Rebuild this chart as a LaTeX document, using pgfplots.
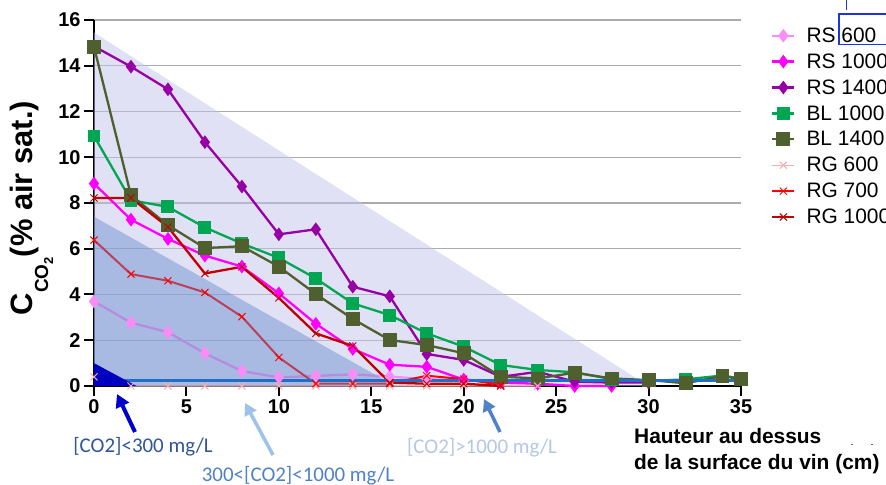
\documentclass[border=0pt]{standalone}
\usepackage{pgfplots}
\pgfplotsset{compat=1.18}
\usepackage{fontspec}
\setmainfont{Liberation Sans}
\newfontfamily\carlito{Carlito}
\usetikzlibrary{arrows.meta}

% series colours
\definecolor{rsA}{RGB}{250,140,245}
\definecolor{rsB}{RGB}{255,0,255}
\definecolor{rsC}{RGB}{150,0,165}
\definecolor{blA}{RGB}{0,166,81}
\definecolor{blB}{RGB}{79,95,45}
\definecolor{rgA}{RGB}{242,175,178}
\definecolor{rgB}{RGB}{255,0,0}
\definecolor{rgC}{RGB}{192,0,0}
% zone colours
\definecolor{zoneHigh}{RGB}{195,195,238}
\definecolor{zoneMid}{RGB}{100,140,200}
\definecolor{zoneLow}{RGB}{0,0,192}
\definecolor{floorline}{RGB}{31,111,198}
\definecolor{txtLow}{RGB}{47,85,151}
\definecolor{txtMid}{RGB}{79,129,200}
\definecolor{txtHigh}{RGB}{180,199,231}
\definecolor{arrLow}{RGB}{0,0,204}
\definecolor{arrMid}{RGB}{157,195,235}
\definecolor{arrHigh}{RGB}{80,130,200}
\definecolor{boxblue}{RGB}{30,50,230}

\begin{document}
\begin{tikzpicture}
\begin{axis}[
  at={(94bp,99bp)}, anchor=south west,
  scale only axis, width=647bp, height=366bp,
  xmin=0, xmax=35, ymin=0, ymax=16,
  axis x line=bottom, axis y line=left,
  axis line style={-, line width=2.2bp, black},
  xtick={0,5,...,35}, ytick={0,2,...,16},
  tick align=outside, major tick length=10bp,
  tick style={line width=2bp, black},
  ymajorgrids, grid style={line width=1.3bp, color=black!33},
  tick label style={font=\bfseries\fontsize{20}{20}\selectfont},
  /pgf/number format/assume math mode=true,
  clip=false,
  legend cell align=left,
  legend image code/.code={\draw[mark repeat=2, mark phase=2, #1] plot coordinates {(0bp,0bp)(11bp,0bp)(22bp,0bp)};},
  legend style={at={(axis description cs:1.0464,0.985)}, anchor=north west,
    draw=none, fill=none, inner sep=0pt, row sep=5.8bp, column sep=9bp,
    font=\fontsize{21}{24}\selectfont, nodes={inner sep=2bp}},
]
% zone above 1000 mg/L
\addplot[draw=none, fill=zoneHigh, fill opacity=0.5, forget plot]
  coordinates {(0,0) (0,15.45) (30,0)} -- cycle;

\addplot[color=rsA, line width=2.3bp, mark=diamond*, mark size=5bp]
  coordinates {(0,3.7)(2,2.77)(4,2.35)(6,1.43)(8,0.65)(10,0.38)(12,0.44)(14,0.51)(16,0.41)(18,0.3)(20,0.25)};
\addlegendentry{RS 600}
\addplot[color=rsB, line width=2.3bp, mark=diamond*, mark size=5bp]
  coordinates {(0,8.85)(2,7.27)(4,6.43)(6,5.7)(8,5.22)(10,4.05)(12,2.72)(14,1.62)(16,0.93)(18,0.84)(20,0.28)(22,0.15)(24,0.1)(26,0)(28,0)};
\addlegendentry{RS 1000}
\addplot[color=rsC, line width=2.3bp, mark=diamond*, mark size=5bp]
  coordinates {(0,14.85)(2,13.96)(4,12.97)(6,10.66)(8,8.72)(10,6.63)(12,6.85)(14,4.34)(16,3.92)(18,1.4)(20,1.14)(22,0.4)(24,0.62)(26,0.19)(28,0.15)(30,0.15)};
\addlegendentry{RS 1400}
\addplot[color=blA, line width=2.3bp, mark=square*, mark size=5.3bp]
  coordinates {(0,10.93)(2,8.12)(4,7.83)(6,6.93)(8,6.23)(10,5.6)(12,4.7)(14,3.61)(16,3.1)(18,2.3)(20,1.72)(22,0.92)(24,0.7)(26,0.6)(28,0.3)(30,0.22)(32,0.29)(34,0.46)(35,0.32)};
\addlegendentry{BL 1000}
\addplot[color=blB, line width=2.3bp, mark=square*, mark size=5.8bp]
  coordinates {(0,14.83)(2,8.34)(4,7.03)(6,6.03)(8,6.11)(10,5.22)(12,4.02)(14,2.93)(16,2.01)(18,1.79)(20,1.43)(22,0.41)(24,0.33)(26,0.58)(28,0.33)(30,0.26)(32,0.12)(34,0.43)(35,0.3)};
\addlegendentry{BL 1400}
\addplot[color=rgA, line width=1.5bp, mark=x, mark size=5bp, mark options={line width=1bp}]
  coordinates {(0,0.4)(2,0)(4,0)(6,0)(8,0)(10,0)(12,0)(14,0)(16,0)(18,0)(20,0)(22,0)(24,0)};
\addlegendentry{RG 600}
\addplot[color=rgB, line width=2bp, mark=x, mark size=5bp, mark options={line width=1bp}]
  coordinates {(0,6.38)(2,4.89)(4,4.6)(6,4.09)(8,3.03)(10,1.25)(12,0.1)(14,0.1)(16,0.1)(18,0.45)(20,0.3)(22,0.05)};
\addlegendentry{RG 700}
\addplot[color=rgC, line width=2.3bp, mark=x, mark size=5bp, mark options={line width=1bp}]
  coordinates {(0,8.22)(2,8.22)(4,6.95)(6,4.92)(8,5.21)(10,3.85)(12,2.3)(14,1.75)(16,0.15)(18,0.1)(20,0.1)(22,0)};
\addlegendentry{RG 1000}

% zone between 300 and 1000 mg/L
\addplot[draw=none, fill=zoneMid, fill opacity=0.45, forget plot]
  coordinates {(0,0) (0,7.4) (16.3,0)} -- cycle;
% floor line
\addplot[color=floorline, line width=3bp, forget plot]
  coordinates {(0,0.25) (35,0.25)};
% zone below 300 mg/L
\addplot[draw=none, fill=zoneLow, forget plot]
  coordinates {(0,0) (0,1.0) (2.3,0)} -- cycle;
\end{axis}

% y axis title
\node[rotate=90, anchor=base, inner sep=0pt, font=\bfseries] at (32bp,277bp)
  {\fontsize{31}{31}\selectfont C\raisebox{-16bp}{\fontsize{19}{19}\selectfont CO\raisebox{-5bp}{\fontsize{13}{13}\selectfont 2}}\fontsize{31}{31}\selectfont(\% air sat.)};

% x axis title
\node[anchor=base west, inner sep=0pt, font=\bfseries\fontsize{21}{21}\selectfont] at (634bp,41bp) {Hauteur au dessus};
\node[anchor=base west, inner sep=0pt, font=\bfseries\fontsize{21}{21}\selectfont] at (634bp,16bp) {de la surface du vin (cm)};
\fill[black!60] (851bp,40bp) rectangle (853bp,41bp);
\fill[black!60] (871bp,40bp) rectangle (873bp,41bp);

% concentration zone annotations
\node[text=txtLow, font=\carlito\fontsize{21}{21}\selectfont, inner sep=0pt] at (143bp,38bp) {[CO2]<300 mg/L};
\node[text=txtMid, font=\carlito\fontsize{21}{21}\selectfont, inner sep=0pt] at (298bp,9bp) {300<[CO2]<1000 mg/L};
\node[text=txtHigh, font=\carlito\fontsize{21}{21}\selectfont, inner sep=0pt] at (482bp,37bp) {[CO2]>1000 mg/L};
\draw[arrLow, line width=4bp, -{Triangle[width=14bp,length=13bp]}] (135bp,53bp) -- (117bp,91bp);
\draw[arrMid, line width=3.5bp, -{Triangle[width=13bp,length=12bp]}] (273bp,30bp) -- (245bp,82bp);
\draw[arrHigh, line width=3.5bp, -{Triangle[width=13bp,length=12bp]}] (500bp,53bp) -- (484bp,86bp);

% highlight box in the legend
\draw[boxblue, line width=1.4bp] (839bp,471bp) rectangle (900bp,440.7bp);
\draw[boxblue, line width=1.4bp] (846.7bp,490bp) -- (846.7bp,475bp);

\pgfresetboundingbox
\path[use as bounding box] (0bp,0bp) rectangle (886bp,485bp);
\end{tikzpicture}
\end{document}
